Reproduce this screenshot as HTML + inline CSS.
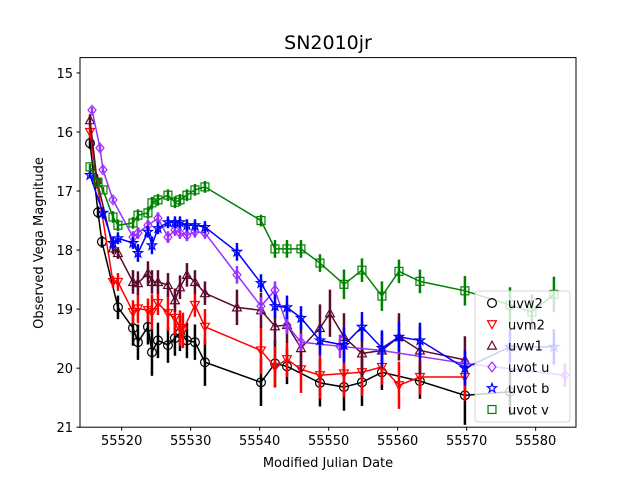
<!DOCTYPE html>
<html><head><meta charset="utf-8"><style>
body{margin:0;background:#fff;}
svg{display:block;font-family:"DejaVu Sans","Liberation Sans",sans-serif;}
</style></head><body>
<svg id="chart" width="640" height="480" xmlns="http://www.w3.org/2000/svg">
<rect width="640" height="480" fill="#fff"/>
<text x="328" y="49" font-size="19" text-anchor="middle">SN2010jr</text>
<g id="plot"></g>
<rect x="80" y="57.6" width="496" height="369.6" fill="none" stroke="#000" stroke-width="1"/>
<text x="328" y="467" font-size="13" text-anchor="middle">Modified Julian Date</text>
<text transform="translate(43,243) rotate(-90)" font-size="13" text-anchor="middle">Observed Vega Magnitude</text>
<g id="legend"></g>
</svg>
<script>
const xTicks=[55520,55530,55540,55550,55560,55570,55580];
const yTicks=[15,16,17,18,19,20,21];
const seriesNames=["uvw2","uvm2","uvw1","uvot u","uvot b","uvot v"];
const mjdW2=[55515.41,55516.57,55517.14,55519.46,55521.64,55522.36,55523.81,55524.39,55525.26,55526.71,55527.72,55528.45,55529.46,55530.62,55532.07,55540.19,55542.22,55543.96,55548.74,55552.22,55554.83,55557.72,55563.23,55569.75,55576.28];
const magW2=[16.19,17.36,17.86,18.97,19.32,19.56,19.3,19.73,19.53,19.61,19.49,19.41,19.53,19.56,19.9,20.24,19.92,19.97,20.25,20.32,20.24,20.07,20.22,20.46,20.4];
const errW2=[0.1,0.1,0.1,0.2,0.3,0.3,0.3,0.4,0.3,0.3,0.3,0.3,0.3,0.3,0.4,0.4,0.4,0.3,0.4,0.4,0.4,0.3,0.3,0.5,0.4];
const mjdM2=[55515.41,55516.42,55518.74,55519.46,55521.64,55522.36,55523.81,55524.39,55525.26,55526.71,55527.72,55528.45,55528.88,55530.62,55532.07,55540.19,55542.22,55543.96,55545.99,55548.74,55552.22,55554.83,55557.72,55560.19,55563.23,55569.75];
const magM2=[16.0,16.86,18.54,18.54,19.05,18.99,19.02,19.05,18.9,19.07,19.15,19.32,19.36,18.93,19.3,19.7,19.98,19.85,20.02,20.12,20.09,20.07,19.98,20.29,20.15,20.15];
const errM2=[0.1,0.1,0.1,0.15,0.2,0.25,0.2,0.3,0.2,0.3,0.3,0.3,0.3,0.2,0.3,0.4,0.35,0.3,0.4,0.4,0.4,0.4,0.3,0.4,0.3,0.4];
const mjdW1=[55515.41,55516.42,55518.74,55519.46,55521.64,55522.36,55523.81,55524.39,55525.26,55526.71,55527.72,55528.45,55529.46,55530.62,55532.07,55536.71,55540.19,55542.22,55543.96,55545.99,55548.74,55550.19,55552.22,55554.83,55557.72,55560.19,55563.23,55569.75];
const magW1=[15.8,16.81,17.97,18.05,18.54,18.56,18.39,18.54,18.54,18.59,18.85,18.63,18.42,18.54,18.73,18.97,19.02,19.29,19.27,19.66,19.32,19.07,19.47,19.75,19.7,19.47,19.7,19.86];
const errW1=[0.1,0.1,0.1,0.1,0.2,0.2,0.2,0.2,0.2,0.2,0.2,0.2,0.2,0.2,0.2,0.3,0.3,0.3,0.3,0.4,0.4,0.4,0.4,0.4,0.3,0.4,0.4,0.4];
const mjdU=[55515.70,55516.86,55517.29,55518.74,55521.64,55522.36,55523.81,55525.26,55526.71,55527.72,55528.45,55529.46,55530.62,55532.07,55536.71,55540.19,55542.22,55543.96,55545.99,55551.64,55557.72,55569.75,55584.25];
const magU=[15.63,16.27,16.64,17.15,17.78,17.71,17.58,17.46,17.78,17.66,17.71,17.75,17.69,17.71,18.42,18.95,18.68,19.27,19.56,19.63,19.7,19.92,20.12];
const errU=[0.05,0.05,0.05,0.05,0.1,0.1,0.1,0.1,0.1,0.1,0.1,0.1,0.1,0.1,0.15,0.15,0.15,0.15,0.15,0.2,0.2,0.2,0.2];
const mjdB=[55515.41,55517.29,55518.74,55519.46,55521.64,55522.36,55523.81,55524.39,55525.26,55526.71,55527.72,55528.45,55529.46,55530.62,55532.07,55536.71,55540.19,55542.22,55543.96,55545.99,55548.74,55552.22,55554.83,55557.72,55560.19,55563.23,55569.75,55576.28,55582.65];
const magB=[16.73,17.37,17.88,17.8,17.88,18.05,17.69,17.92,17.63,17.53,17.53,17.53,17.58,17.58,17.61,18.03,18.56,18.95,18.97,19.15,19.53,19.61,19.3,19.66,19.47,19.53,20.0,19.64,19.64];
const errB=[0.05,0.1,0.1,0.1,0.1,0.15,0.1,0.15,0.1,0.1,0.1,0.1,0.1,0.1,0.1,0.15,0.15,0.2,0.2,0.2,0.25,0.3,0.25,0.3,0.25,0.3,0.3,0.3,0.3];
const mjdV=[55515.41,55516.57,55517.29,55518.74,55519.46,55521.64,55522.36,55523.81,55524.39,55525.26,55526.71,55527.72,55528.45,55529.46,55530.62,55532.07,55540.19,55542.22,55543.96,55545.99,55548.74,55552.22,55554.83,55557.72,55560.19,55563.23,55569.75,55576.28,55579.46,55582.65];
const magV=[16.59,16.85,16.98,17.44,17.58,17.54,17.41,17.37,17.2,17.15,17.07,17.19,17.15,17.07,16.98,16.93,17.5,17.98,17.98,17.98,18.22,18.58,18.34,18.78,18.36,18.53,18.69,18.93,19.05,18.75];
const errV=[0.05,0.05,0.05,0.1,0.1,0.1,0.1,0.1,0.1,0.1,0.1,0.1,0.1,0.1,0.1,0.1,0.1,0.15,0.15,0.15,0.15,0.25,0.2,0.25,0.2,0.2,0.25,0.3,0.3,0.3];

const X0=55513.96,X1=55585.85,Y0=14.74,Y1=21.0;
const L=80,R=576,T=57.6,B=427.2;
function xs(v){return L+(v-X0)/(X1-X0)*(R-L);}
function ys(v){return T+(v-Y0)/(Y1-Y0)*(B-T);}
const NS="http://www.w3.org/2000/svg";
const plot=document.getElementById('plot');
const legend=document.getElementById('legend');
const chart=document.getElementById('chart');
function mk(tag,at,parent){const e=document.createElementNS(NS,tag);for(const k in at)e.setAttribute(k,at[k]);(parent||plot).appendChild(e);return e;}

xTicks.forEach(t=>{const x=xs(t);
 const l=mk('line',{x1:x,x2:x,y1:B,y2:B+3.5,stroke:'#000'},chart);
 
 
 const tx=mk('text',{x:x,y:B+18,'font-size':13,'text-anchor':'middle'},chart);tx.textContent=t;
 
 
});
yTicks.forEach(t=>{const y=ys(t);
 const l=mk('line',{x1:L-3.5,x2:L,y1:y,y2:y,stroke:'#000'},chart);
 
 
 const tx=mk('text',{x:L-7,y:y+5,'font-size':13,'text-anchor':'end'},chart);tx.textContent=t;
 
 
});

function marker(shape,x,y,c,parent){
 const s=4.4;let e;
 const st={fill:'none',stroke:c,'stroke-width':1.2};
 if(shape==='o')e=mk('circle',Object.assign({cx:x,cy:y,r:s},st),parent);
 else if(shape==='v')e=mk('polygon',Object.assign({points:`${x-s},${y-s*0.8} ${x+s},${y-s*0.8} ${x},${y+s}`},st),parent);
 else if(shape==='^')e=mk('polygon',Object.assign({points:`${x-s},${y+s*0.8} ${x+s},${y+s*0.8} ${x},${y-s}`},st),parent);
 else if(shape==='D')e=mk('polygon',Object.assign({points:`${x},${y-s*1.1} ${x+s*0.9},${y} ${x},${y+s*1.1} ${x-s*0.9},${y}`},st),parent);
 else if(shape==='*'){let p=[];for(let i=0;i<10;i++){const r=i%2?s*0.45:s*1.1;const a=-Math.PI/2+i*Math.PI/5;p.push((x+r*Math.cos(a)).toFixed(2)+','+(y+r*Math.sin(a)).toFixed(2));}
  e=mk('polygon',Object.assign({points:p.join(' ')},st),parent);}
 else e=mk('rect',Object.assign({x:x-s*0.9,y:y-s*0.9,width:s*1.8,height:s*1.8},st),parent);
 return e;
}
const series=[
 {mjd:mjdW2,mag:magW2,err:errW2,c:'#000000',m:'o'},
 {mjd:mjdM2,mag:magM2,err:errM2,c:'#ff0000',m:'v'},
 {mjd:mjdW1,mag:magW1,err:errW1,c:'#5c0a2e',m:'^'},
 {mjd:mjdU,mag:magU,err:errU,c:'#9b30ff',m:'D'},
 {mjd:mjdB,mag:magB,err:errB,c:'#0000ff',m:'*'},
 {mjd:mjdV,mag:magV,err:errV,c:'#008000',m:'s'}];
series.forEach((s,si)=>{
 const g=mk('g',{});
 
 
 s.mjd.forEach((d,i)=>{const x=xs(d);
  const eb=mk('line',{x1:x,x2:x,y1:ys(s.mag[i]-s.err[i]),y2:ys(s.mag[i]+s.err[i]),stroke:s.c,'stroke-width':2.5},g);
  
  
 });
 const pts=s.mjd.map((d,i)=>xs(d).toFixed(2)+','+ys(s.mag[i]).toFixed(2)).join(' ');
 const pl=mk('polyline',{points:pts,fill:'none',stroke:s.c,'stroke-width':1.5},g);
 
 
 s.mjd.forEach((d,i)=>{const m=marker(s.m,xs(d),ys(s.mag[i]),s.c,g);
  
  
 });
});
const lb=mk('rect',{x:475,y:291,width:95,height:131,rx:3,fill:'#fff','fill-opacity':0.8,stroke:'#ccc','stroke-opacity':0.8},legend);


series.forEach((s,i)=>{const y=303+i*21.3;
 const m=marker(s.m,492,y,s.c,legend);
 
 
 const t=mk('text',{x:508,y:y+5,'font-size':13},legend);t.textContent=seriesNames[i];
 
 
});
</script>
</body></html>
